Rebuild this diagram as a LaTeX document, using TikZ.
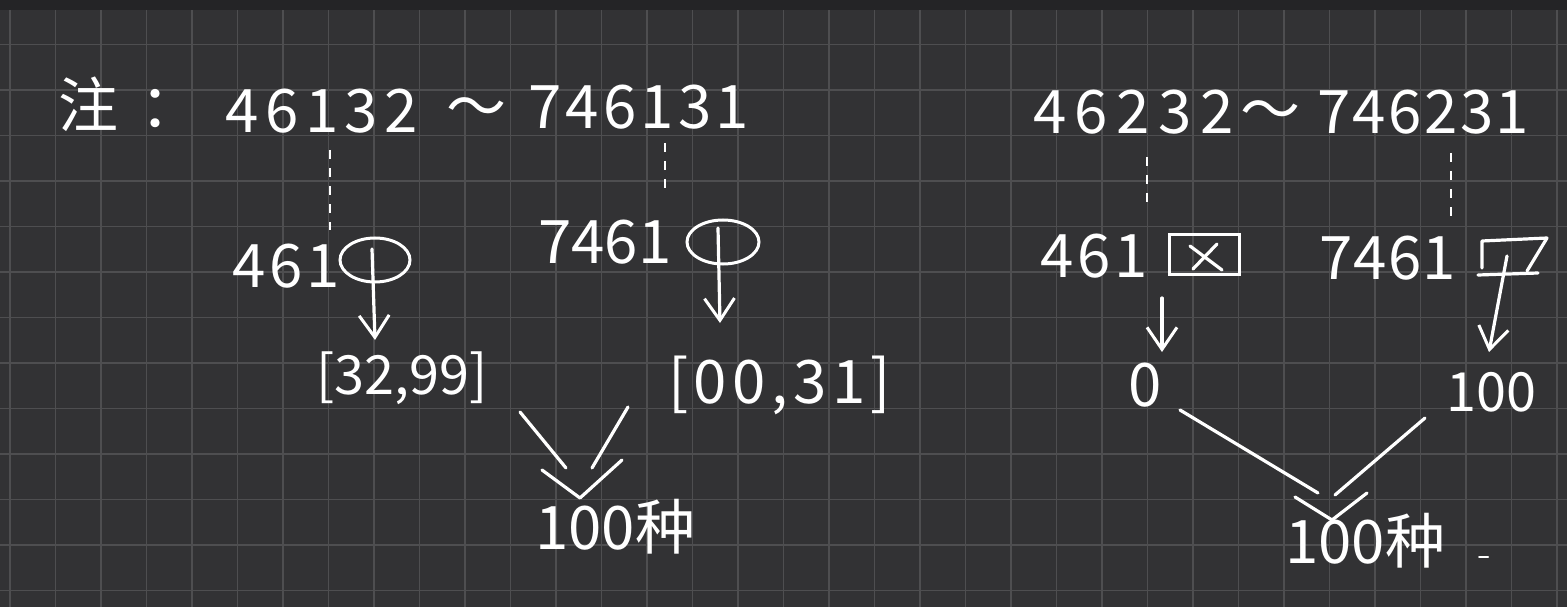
\documentclass[tikz,border=0pt]{standalone}
\usepackage{fontspec}
\newfontfamily\cjk{Noto Sans CJK SC}
\usetikzlibrary{arrows.meta,shapes.geometric}
\definecolor{bgc}{RGB}{50,50,52}
\definecolor{gridc}{RGB}{78,78,80}
\definecolor{topc}{RGB}{36,36,38}
\tikzset{
  hw/.style={text=white, inner sep=0pt, anchor=west, font=\cjk\fontsize{60}{60}\selectfont},
  sp/.style={font=\cjk\fontsize{60}{60}\selectfont\addfontfeature{LetterSpace=#1}},
  hwsmall/.style={hw, font=\cjk\fontsize{54}{54}\selectfont},
  pen/.style={draw=white, line width=3.2pt, line cap=round, line join=round},
  penarrow/.style={pen, -{Straight Barb[length=22pt,width=30pt,line width=3pt]}},
  guide/.style={draw=white, line width=1.6pt, dash pattern=on 9pt off 9pt},
  holder/.style={draw=white, line width=3pt, ellipse, inner sep=0pt},
}
\begin{document}
\begin{tikzpicture}[x=1pt,y=-1pt]
\useasboundingbox (0,0) rectangle (1567,607);
\fill[bgc] (0,0) rectangle (1567,607);
\foreach \i in {0,...,34} {\draw[gridc, line width=1.6pt] ({10+45.5*\i},10) -- ({10+45.5*\i},607);}
\foreach \j in {0,...,12} {\draw[gridc, line width=1.6pt] (0,{44.5+45.5*\j}) -- (1567,{44.5+45.5*\j});}
\fill[topc] (0,0) rectangle (1567,10);

% ---------- left part ----------
\node[hw] (note) at (58,104) {注\hspace{22pt}：};
\node[hw, sp=11] (a1) at (225,111) {46132};
\node[hw] (t1) at (446,113) {～};
\node[hw, sp=7] (a2) at (528,107) {746131};

\coordinate (d1s) at (330,150); \coordinate (d1e) at (330,230);
\draw[guide] (d1s) -- (d1e);
\coordinate (d2s) at (665,143); \coordinate (d2e) at (665,195);
\draw[guide] (d2s) -- (d2e);

\node[hw, sp=6] (p1) at (232,266) {461};
\node[holder, minimum width=70pt, minimum height=44pt] (e1) at (375,260) {};
\node[hwsmall] (b1) at (316,378) {[32,99]};
\coordinate (e1t) at (372,249);
\coordinate (e1a) at (375,340);
\draw[penarrow] (e1t) -- (e1a);

\node[hw] (p2) at (538,242) {7461};
\node[holder, minimum width=72pt, minimum height=44pt] (e2) at (723,242) {};
\coordinate (e2t) at (718,228);
\coordinate (e2a) at (720,323);
\draw[penarrow] (e2t) -- (e2a);
\node[hw, sp=9] (b2) at (668,385) {[00,31]};

\coordinate (c1s) at (520,412); \coordinate (c1e) at (566,468);
\coordinate (c2s) at (628,407); \coordinate (c2e) at (592,468);
\draw[pen] (c1s) -- (c1e);
\draw[pen] (c2s) -- (c2e);
\coordinate (v1a) at (542,470); \coordinate (v1b) at (580,498); \coordinate (v1c) at (622,460);
\draw[pen] (v1a) -- (v1b) -- (v1c);
\node[hw] (r1) at (535,527) {100种};

% ---------- right part ----------
\node[hw, sp=14] (a3) at (1033,112) {46232};
\node[hw] (t2) at (1240,116) {～};
\node[hw, sp=4] (a4) at (1317,112) {746231};

\coordinate (d3s) at (1147,157); \coordinate (d3e) at (1147,207);
\draw[guide] (d3s) -- (d3e);
\coordinate (d4s) at (1451,153); \coordinate (d4e) at (1451,217);
\draw[guide] (d4s) -- (d4e);

\node[hw, sp=6] (p3) at (1040,256) {461};
\node[draw=white, line width=3pt, minimum width=70pt, minimum height=40pt, inner sep=0pt] (bx1) at (1204,254) {};
\coordinate (x1a) at (1190,246); \coordinate (x1b) at (1222,270);
\coordinate (x1c) at (1217,244); \coordinate (x1d) at (1193,269);
\draw[pen] (x1a) -- (x1b);
\draw[pen] (x1c) -- (x1d);

\node[hw, sp=2] (p4) at (1319,258) {7461};
\coordinate (q1) at (1482,268); \coordinate (q2) at (1482,241);
\coordinate (q3) at (1547,238); \coordinate (q4) at (1527,271);
\coordinate (q5) at (1478,275); \coordinate (q6) at (1538,273);
\draw[pen] (q1) -- (q2) -- (q3) -- (q4);
\draw[pen] (q5) -- (q6);

\coordinate (k1s) at (1162,298); \coordinate (k1e) at (1162,352);
\draw[penarrow] (k1s) -- (k1e);
\node[hw] (z0) at (1128,385) {0};

\coordinate (k2s) at (1507,256); \coordinate (k2e) at (1489,352);
\draw[penarrow] (k2s) -- (k2e);
\node[hwsmall] (h100) at (1446,392) {100};

\coordinate (c3s) at (1180,410); \coordinate (c3e) at (1318,493);
\coordinate (c4s) at (1425,418); \coordinate (c4e) at (1335,495);
\draw[pen] (c3s) -- (c3e);
\draw[pen] (c4s) -- (c4e);
\coordinate (v2a) at (1295,497); \coordinate (v2b) at (1332,520); \coordinate (v2c) at (1367,493);
\draw[pen] (v2a) -- (v2b) -- (v2c);
\node[hw] (r2) at (1285,541) {100种};

\coordinate (m1) at (1479,557); \coordinate (m2) at (1488,557);
\draw[pen, line width=2pt] (m1) -- (m2);
\end{tikzpicture}
\end{document}
